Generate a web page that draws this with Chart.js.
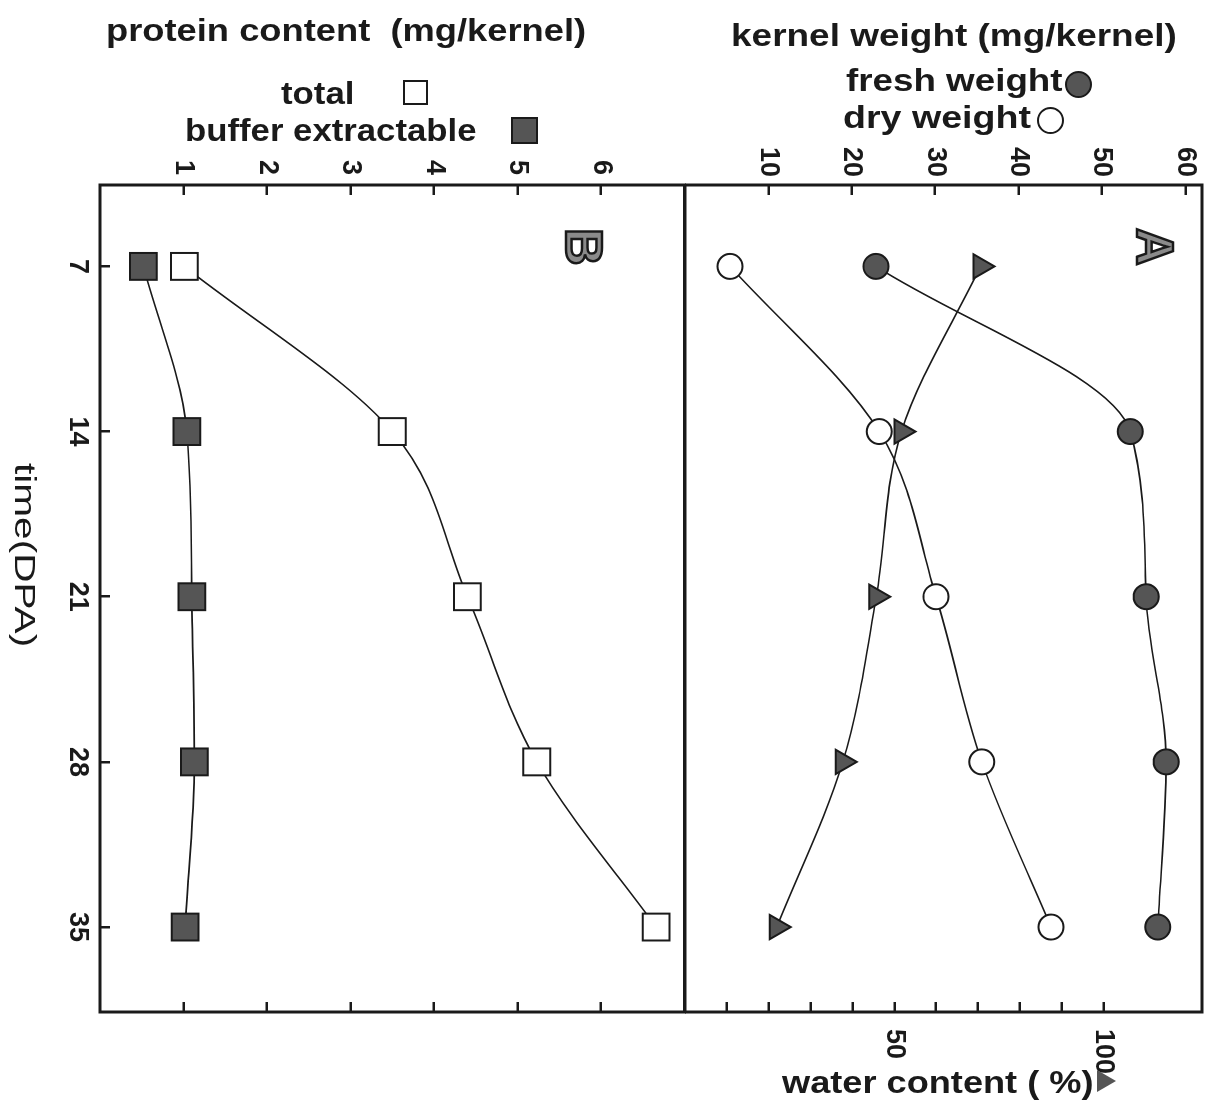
<!DOCTYPE html>
<html>
<head>
<title>Kernel weight and protein content</title>
<script src="https://cdn.jsdelivr.net/npm/chart.js"></script>
<style>
  body { margin: 0; background: #fff; }
  #page { position: relative; width: 1209px; height: 1102px; overflow: hidden;
          font-family: "Liberation Sans", Arial, sans-serif; color: #1a1a1a; }
  .rot { position: absolute; top: 0; transform-origin: 0 0; }
  #boxB { left: 0; transform: translate(686px, 0) rotate(90deg); }
  #boxA { left: 685px; transform: translate(524px, 0) rotate(90deg); }
  .lbl { position: absolute; white-space: nowrap; font-size: 32px; line-height: 1;
         font-weight: bold; transform-origin: 0 0; }
  .vert { writing-mode: vertical-rl; }
  .letter { position: absolute; writing-mode: vertical-rl; font-size: 52px; line-height: 1;
            font-weight: bold; color: #8a8a8a; -webkit-text-stroke: 2.5px #1a1a1a; }
  .sym { position: absolute; box-sizing: border-box; border: 2px solid #1a1a1a; }
</style>
</head>
<body>
<div id="page">
  <div class="rot" id="boxB"><canvas id="chartB" width="1102" height="686"></canvas></div>
  <div class="rot" id="boxA"><canvas id="chartA" width="1102" height="524"></canvas></div>

  <div class="lbl" style="left:106px; top:14px" data-w="480">protein content&nbsp; (mg/kernel)</div>
  <div class="lbl" style="left:281px; top:77px" data-w="74">total</div>
  <div class="sym" style="left:403px; top:80px; width:25px; height:25px; background:#fff"></div>
  <div class="lbl" style="left:185px; top:114px" data-w="292">buffer extractable</div>
  <div class="sym" style="left:511px; top:117px; width:27px; height:27px; background:#555"></div>

  <div class="lbl" style="left:731px; top:19px" data-w="446">kernel weight (mg/kernel)</div>
  <div class="lbl" style="left:846px; top:64px" data-w="216">fresh weight</div>
  <div class="sym" style="left:1065px; top:71px; width:27px; height:27px; border-radius:50%; background:#555"></div>
  <div class="lbl" style="left:843px; top:101px" data-w="188">dry weight</div>
  <div class="sym" style="left:1037px; top:107px; width:27px; height:27px; border-radius:50%; background:#fff"></div>

  <div class="lbl" style="left:782px; top:1066px" data-w="312">water content ( %)</div>
  <div style="position:absolute; left:1097px; top:1070px; width:0; height:0;
              border-top:11px solid transparent; border-bottom:11px solid transparent;
              border-left:19px solid #555"></div>

  <div class="lbl vert" style="left:10px; top:463px; font-weight:normal; font-size:30px" data-w="184">time(DPA)</div>
  <div class="letter" style="left:558px; top:228px">B</div>
  <div class="letter" style="left:1129px; top:228px">A</div>
</div>

<script>
const days = [7, 14, 21, 28, 35];
const proteinTotal = [1.01, 3.5, 4.4, 5.23, 6.66];
const proteinBuffer = [0.52, 1.04, 1.1, 1.13, 1.02];
const freshWeight = [22.9, 53.4, 55.3, 57.7, 56.7];
const dryWeight = [5.4, 23.3, 30.1, 35.6, 43.9];
const waterContent = [70.6, 51.7, 45.7, 37.7, 21.9];
const proteinTicks = [1, 2, 3, 4, 5, 6];
const weightTicks = [10, 20, 30, 40, 50, 60];
const waterTicks = [10, 20, 30, 40, 50, 60, 70, 80, 90, 100];
const waterLabels = [50, 100];

const ink = '#1a1a1a';
const tickFont = {family: 'Liberation Sans, Arial, sans-serif', size: 27, weight: 'bold'};

// the charts are drawn with time along x and turned a quarter turn by css
function pts(vals) {
    return days.map((d, i) => ({x: d, y: vals[i]}));
}

function series(vals, style, radius, fill, axis) {
    return {
        data: pts(vals), yAxisID: axis,
        borderColor: ink, borderWidth: 1.6, backgroundColor: fill,
        pointStyle: style, pointRadius: radius, pointBorderWidth: 2,
        cubicInterpolationMode: 'monotone', fill: false
    };
}

function fixed(list) {
    return s => { s.ticks = list.map(v => ({value: v})); };
}

const tickGrid = {drawOnChartArea: false, tickLength: -10, lineWidth: 2.5, color: ink};

function valueAxis(position, min, max, list, size, pad, label) {
    return {
        type: 'linear', position: position, min: min, max: max,
        afterBuildTicks: fixed(list),
        afterFit: s => {
            s.width = size;
            s.paddingTop = 0;
            s.paddingBottom = 0;
        },
        grid: tickGrid,
        border: {display: false},
        ticks: {font: tickFont, color: ink, padding: pad, callback: label}
    };
}

const frame = {
    id: 'frame',
    afterDraw(chart) {
        const {ctx, chartArea: a} = chart;
        ctx.save();
        ctx.strokeStyle = ink;
        ctx.lineWidth = 3;
        ctx.strokeRect(a.left, a.top, a.right - a.left, a.bottom - a.top);
        ctx.restore();
    }
};

const common = {
    responsive: false,
    animation: false,
    plugins: {legend: {display: false}, tooltip: {enabled: false}}
};

new Chart(document.getElementById('chartB'), {
    type: 'line',
    data: {
        datasets: [
            series(proteinBuffer, 'rect', 19, '#555', 'y'),
            series(proteinTotal, 'rect', 19, '#fff', 'y')
        ]
    },
    options: Object.assign({}, common, {
        layout: {autoPadding: false, padding: {top: 1.5, left: 0, right: 0, bottom: 0}},
        scales: {
            x: {
                type: 'linear', position: 'bottom', min: 3.55, max: 38.6,
                afterBuildTicks: fixed(days),
                afterFit: s => {
                    s.height = 100;
                    s.paddingLeft = 0;
                    s.paddingRight = 0;
                },
                grid: tickGrid,
                border: {display: false},
                ticks: {font: tickFont, color: ink, padding: 16, minRotation: 0, maxRotation: 0}
            },
            y: valueAxis('left', 0, 7, proteinTicks, 185, 20, v => v),
            yR: valueAxis('right', 0, 7, proteinTicks, 90, 20, () => '')
        }
    }),
    plugins: [frame]
});

new Chart(document.getElementById('chartA'), {
    type: 'line',
    data: {
        datasets: [
            series(freshWeight, 'circle', 12.5, '#555', 'y'),
            series(dryWeight, 'circle', 12.5, '#fff', 'y'),
            series(waterContent, 'triangle', 14, '#555', 'yW')
        ]
    },
    options: Object.assign({}, common, {
        layout: {autoPadding: false, padding: {top: 7, left: 0, right: 0, bottom: 0}},
        scales: {
            x: {type: 'linear', display: false, min: 3.55, max: 38.6},
            y: valueAxis('left', 0, 62, weightTicks, 185, 18, v => v),
            yW: valueAxis('right', 0, 123.5, waterTicks, 90, 27,
                v => waterLabels.includes(v) ? v : '')
        }
    }),
    plugins: [frame]
});

// stretch the headings to the widths of the scanned lettering
document.querySelectorAll('[data-w]').forEach(el => {
    const vert = el.classList.contains('vert');
    const k = +el.dataset.w / (vert ? el.offsetHeight : el.offsetWidth);
    el.style.transform = vert ? 'scaleY(' + k + ')' : 'scaleX(' + k + ')';
});
</script>
</body>
</html>
